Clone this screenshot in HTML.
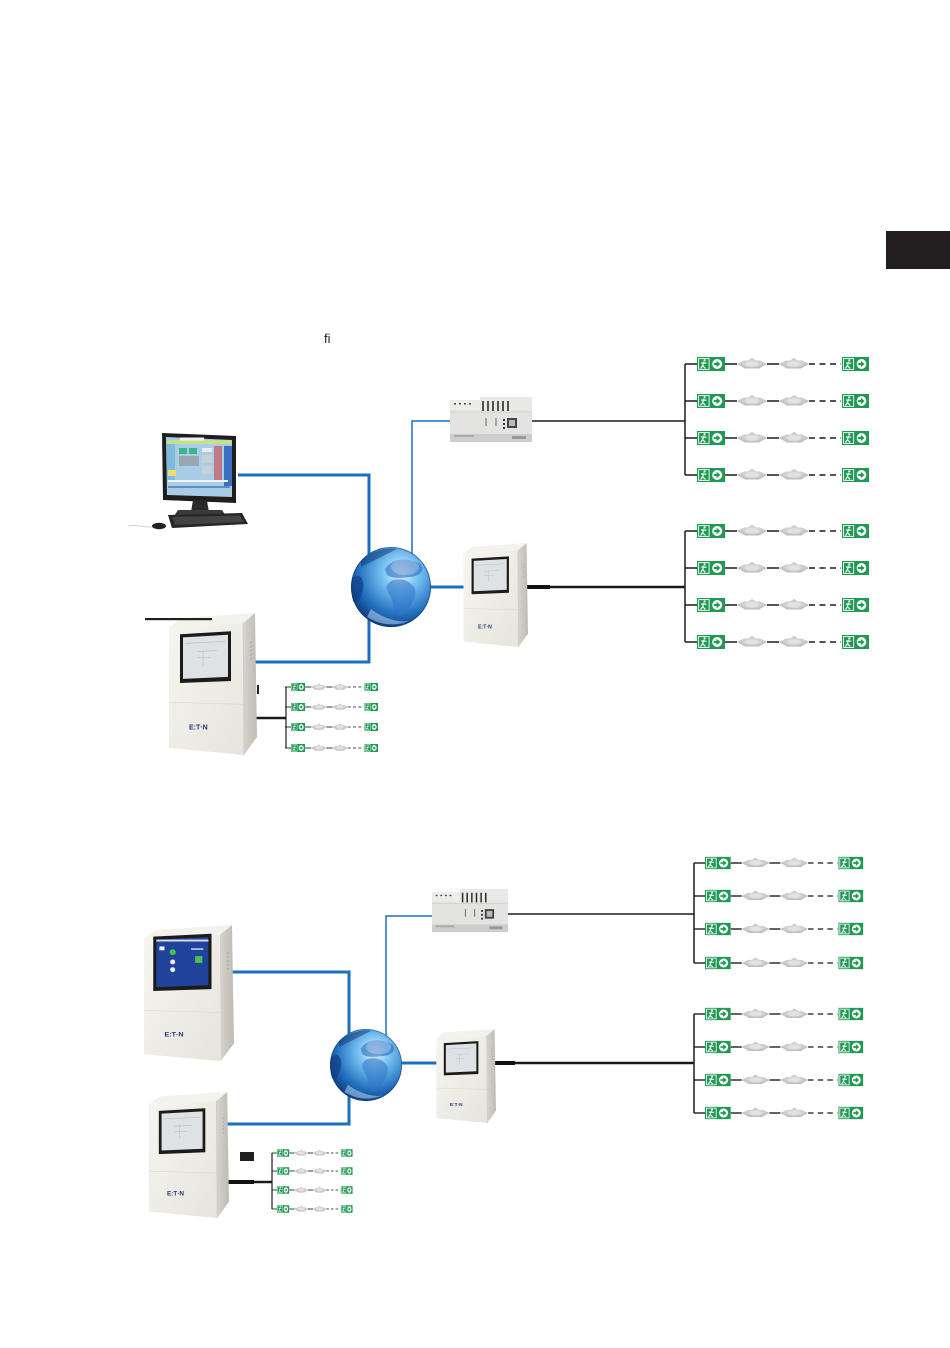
<!DOCTYPE html>
<html>
<head>
<meta charset="utf-8">
<style>
  html,body{margin:0;padding:0;background:#fff;}
  body{width:950px;height:1348px;position:relative;overflow:hidden;font-family:"Liberation Sans",sans-serif;}
  svg{position:absolute;left:0;top:0;}
</style>
</head>
<body>
<svg width="950" height="1348" viewBox="0 0 950 1348" xmlns="http://www.w3.org/2000/svg">
  <defs>
    <radialGradient id="glg" cx="62%" cy="32%" r="75%">
      <stop offset="0" stop-color="#e8f6ff"/>
      <stop offset="0.3" stop-color="#78c2f2"/>
      <stop offset="0.7" stop-color="#2470bf"/>
      <stop offset="1" stop-color="#0c3274"/>
    </radialGradient>
    <linearGradient id="sideg" x1="0" y1="0" x2="1" y2="0">
      <stop offset="0" stop-color="#d6d4cc"/>
      <stop offset="1" stop-color="#bdbbb4"/>
    </linearGradient>
    <linearGradient id="frontg" x1="0" y1="0" x2="1" y2="1">
      <stop offset="0" stop-color="#f6f5ef"/>
      <stop offset="1" stop-color="#e6e4dc"/>
    </linearGradient>
    <radialGradient id="fxg" cx="50%" cy="50%" r="55%">
      <stop offset="0" stop-color="#e6e6e6"/>
      <stop offset="0.6" stop-color="#cdcdcd"/>
      <stop offset="1" stop-color="#b4b4b4"/>
    </radialGradient>

    <symbol id="sg" viewBox="0 0 28 14" preserveAspectRatio="none">
      <rect width="28" height="14" fill="#1f9a52"/>
      <rect x="1.6" y="1.6" width="10.5" height="10.8" fill="none" stroke="#fff" stroke-width="0.9"/>
      <circle cx="7.6" cy="3.4" r="1.1" fill="#fff"/>
      <path d="M7 4.8 L5.6 8.6 M5.6 8.6 L3.6 11.6 M5.6 8.6 L8.4 11.4 M4.2 6 L9.6 6.2" stroke="#fff" stroke-width="1.2" fill="none"/>
      <circle cx="20.2" cy="7" r="5" fill="#fff"/>
      <path d="M16.8 6 H19.6 V3.8 L23.4 7 L19.6 10.2 V8 H16.8 Z" fill="#1f9a52"/>
    </symbol>

    <symbol id="fx" viewBox="0 0 30 12" preserveAspectRatio="none">
      <polygon points="0,6.5 7,3 11,3 15,0.5 19,3 23,3 30,6.5 22,11 8,11" fill="url(#fxg)"/>
      <ellipse cx="15" cy="6.5" rx="7" ry="2.6" fill="#e4e4e4" opacity="0.8"/>
    </symbol>

    <g id="row">
      <line x1="-12" y1="0" x2="0" y2="0" stroke="#1a1a1a" stroke-width="1.5"/>
      <use href="#sg" x="0" y="-7" width="28" height="14"/>
      <line x1="28" y1="0" x2="40" y2="0" stroke="#1a1a1a" stroke-width="1.5"/>
      <use href="#fx" x="40" y="-6.5" width="30" height="12"/>
      <line x1="70" y1="0" x2="82" y2="0" stroke="#1a1a1a" stroke-width="1.5"/>
      <use href="#fx" x="82" y="-6.5" width="30" height="12"/>
      <line x1="112" y1="0" x2="144" y2="0" stroke="#1a1a1a" stroke-width="1.5" stroke-dasharray="6 4.5"/>
      <use href="#sg" x="145" y="-7" width="27" height="14"/>
    </g>

    <symbol id="globe" viewBox="-40 -40 80 80">
      <circle cx="0" cy="0" r="40" fill="url(#glg)"/>
      <path d="M-39 -8 C-32 -16 -26 -8 -28 2 C-30 12 -34 20 -38 14 C-40 6 -40 -2 -39 -8 Z" fill="#103f86" opacity="0.7"/>
      <path d="M-6 -18 C2 -30 20 -30 30 -22 C34 -16 28 -10 18 -10 C10 -9 2 -8 -4 -12 Z" fill="#2c6cc0" opacity="0.6"/>
      <path d="M0 -6 C10 -10 20 -6 24 2 C26 10 20 20 12 28 C6 32 2 24 2 16 C0 8 -6 4 -4 -2 Z" fill="#2f72c4" opacity="0.55"/>
      <path d="M-30 -26 C-20 -36 -4 -40 6 -38 C-6 -32 -18 -26 -30 -20 Z" fill="#0b2f6e" opacity="0.5"/>
      <path d="M-20 22 C-10 30 6 36 18 34 C8 38 -8 40 -24 30 Z" fill="#bfe3fb" opacity="0.5"/>
      <ellipse cx="14" cy="-20" rx="14" ry="8" fill="#ffffff" opacity="0.25"/>
      <circle cx="0" cy="0" r="39.5" fill="none" stroke="#0a2c68" stroke-width="1" opacity="0.5"/>
    </symbol>

    <symbol id="module" viewBox="0 0 82 48" preserveAspectRatio="none">
      <rect x="0" y="4" width="82" height="42" rx="2" fill="#e3e3e1"/>
      <rect x="0" y="4" width="30" height="10" fill="#ececea"/>
      <rect x="30" y="1" width="52" height="13" fill="#e8e8e6"/>
      <g fill="#ffffff"><rect x="4" y="6" width="3" height="2"/><rect x="9" y="6" width="3" height="2"/><rect x="14" y="6" width="3" height="2"/><rect x="19" y="6" width="3" height="2"/></g>
      <g fill="#444"><rect x="4" y="7" width="2" height="1.5"/><rect x="9" y="7" width="2" height="1.5"/><rect x="14" y="7" width="2" height="1.5"/><rect x="19" y="7" width="2" height="1.5"/></g>
      <g stroke="#2a2a2a" stroke-width="1.6"><line x1="33" y1="5" x2="33" y2="15"/><line x1="38" y1="5" x2="38" y2="15"/><line x1="43" y1="5" x2="43" y2="15"/><line x1="48" y1="5" x2="48" y2="15"/><line x1="53" y1="5" x2="53" y2="15"/><line x1="58" y1="5" x2="58" y2="15"/></g>
      <line x1="0" y1="16" x2="82" y2="16" stroke="#cfcfcd" stroke-width="0.8"/>
      <g stroke="#666" stroke-width="1"><line x1="36" y1="22" x2="36" y2="30"/><line x1="46" y1="22" x2="46" y2="30"/></g>
      <g fill="#333"><rect x="53" y="23" width="2" height="2"/><rect x="53" y="27" width="2" height="2"/><rect x="53" y="31" width="2" height="2"/></g>
      <rect x="57" y="22" width="10" height="10" fill="#444"/>
      <rect x="59" y="24" width="6" height="6" fill="#bbb"/>
      <rect x="0" y="38" width="82" height="8" fill="#cdcdcb"/>
      <rect x="4" y="39" width="20" height="2" fill="#aaa"/>
      <rect x="62" y="40" width="14" height="3" fill="#999"/>
    </symbol>

    <symbol id="panel" viewBox="0 0 90 140" preserveAspectRatio="none">
      <polygon points="76,10 88,0 90,122 77,140" fill="url(#sideg)"/>
      <polygon points="2,14 76,10 77,140 2,133" fill="url(#frontg)"/>
      <polygon points="2,14 76,10 88,0 14,5" fill="#f3f2ec"/>
      <line x1="2" y1="88" x2="76" y2="90" stroke="#d8d6ce" stroke-width="0.6"/>
      <line x1="76" y1="10" x2="77" y2="140" stroke="#c8c6be" stroke-width="0.6"/>
      <g stroke="#a9a79f" stroke-width="0.8"><line x1="83" y1="30" x2="85" y2="28"/><line x1="83" y1="34" x2="85" y2="32"/><line x1="83" y1="38" x2="85" y2="36"/><line x1="83" y1="42" x2="85" y2="40"/><line x1="83" y1="46" x2="85" y2="44"/></g>
      <polygon points="13,21 64,18 64,67 13,69" fill="#1b1b1b"/>
      <polygon points="16,24 61,21.5 61,63 16,65" fill="#dfe2e4"/>
      <g stroke="#b9bcbf" stroke-width="0.6"><line x1="18" y1="30" x2="58" y2="28"/><line x1="30" y1="38" x2="50" y2="37"/><line x1="30" y1="44" x2="44" y2="44"/><line x1="36" y1="36" x2="36" y2="52"/></g>
      <text x="22" y="115" font-family="Liberation Sans, sans-serif" font-size="7" font-weight="bold" fill="#23357a">E:T·N</text>
    </symbol>

    <symbol id="panelblue" viewBox="0 0 90 140" preserveAspectRatio="none">
      <polygon points="76,10 88,0 90,122 77,140" fill="url(#sideg)"/>
      <polygon points="2,14 76,10 77,140 2,133" fill="url(#frontg)"/>
      <polygon points="2,14 76,10 88,0 14,5" fill="#f3f2ec"/>
      <line x1="2" y1="88" x2="76" y2="90" stroke="#d8d6ce" stroke-width="0.6"/>
      <g stroke="#a9a79f" stroke-width="0.8"><line x1="83" y1="30" x2="85" y2="28"/><line x1="83" y1="34" x2="85" y2="32"/><line x1="83" y1="38" x2="85" y2="36"/><line x1="83" y1="42" x2="85" y2="40"/><line x1="83" y1="46" x2="85" y2="44"/></g>
      <polygon points="11,12 68,9 68,66 11,68" fill="#1b1b1b"/>
      <polygon points="14,15 65,12.5 65,62 14,64" fill="#22439c"/>
      <rect x="14" y="15" width="51" height="2" fill="#d9dde8"/>
      <rect x="17" y="22" width="5" height="4" fill="#e8f0ff"/>
      <circle cx="30" cy="28" r="3" fill="#4cc34c"/>
      <circle cx="30" cy="38" r="2.5" fill="#e8f0ff"/>
      <circle cx="30" cy="46" r="2.5" fill="#e8f0ff"/>
      <rect x="52" y="32" width="7" height="7" fill="#4cc34c"/>
      <rect x="48" y="24" width="12" height="1.5" fill="#cfd8f0"/>
      <text x="22" y="115" font-family="Liberation Sans, sans-serif" font-size="7" font-weight="bold" fill="#23357a">E:T·N</text>
    </symbol>
  </defs>

  <!-- black tab -->
  <rect x="886" y="231" width="64" height="38" fill="#231f20"/>

  <!-- fi ligature -->
  <text x="324" y="343" font-family="Liberation Sans, sans-serif" font-size="13" fill="#231f20">ﬁ</text>

  <!-- ================= UPPER DIAGRAM ================= -->
  <path d="M238 475 H369 V662 H253" fill="none" stroke="#1c6fc0" stroke-width="3"/>
  <path d="M412 560 V421 H452" fill="none" stroke="#1c6fc0" stroke-width="1.5"/>
  <path d="M428 587 H464" fill="none" stroke="#1c6fc0" stroke-width="3"/>

  <path d="M530 421 H685" stroke="#1a1a1a" stroke-width="1.5" fill="none"/>
  <path d="M685 364 V475" stroke="#1a1a1a" stroke-width="1.5" fill="none"/>
  <path d="M525 587 H685" stroke="#1a1a1a" stroke-width="2.5" fill="none"/>
  <path d="M525 587 H550" stroke="#111" stroke-width="4" fill="none"/>
  <path d="M685 531 V642" stroke="#1a1a1a" stroke-width="1.5" fill="none"/>
  <path d="M246 718 H286" stroke="#1a1a1a" stroke-width="2.5" fill="none"/>
  <path d="M286 687 V748" stroke="#1a1a1a" stroke-width="1.2" fill="none"/>

  <use href="#row" transform="translate(697,364)"/>
  <use href="#row" transform="translate(697,401)"/>
  <use href="#row" transform="translate(697,438)"/>
  <use href="#row" transform="translate(697,475)"/>
  <use href="#row" transform="translate(697,531)"/>
  <use href="#row" transform="translate(697,568)"/>
  <use href="#row" transform="translate(697,605)"/>
  <use href="#row" transform="translate(697,642)"/>
  <use href="#row" transform="translate(291,687) scale(0.506,0.58)"/>
  <use href="#row" transform="translate(291,707) scale(0.506,0.58)"/>
  <use href="#row" transform="translate(291,727) scale(0.506,0.58)"/>
  <use href="#row" transform="translate(291,748) scale(0.506,0.58)"/>

  <!-- PC -->
  <g>
    <path d="M152 527 C140 527 134 524 128 526" stroke="#c9c9c9" stroke-width="0.8" fill="none"/>
    <polygon points="162,433 236,436 236,503 163,500" fill="#1e1e1e"/>
    <polygon points="166,437 232,440 232,497 167,495" fill="#a9cde6"/>
    <rect x="167" y="440" width="64" height="4" fill="#c9e08a"/>
    <rect x="180" y="437.5" width="24" height="3" fill="#f0f0f0"/>
    <rect x="167" y="444" width="8" height="36" fill="#7fb9dc"/>
    <rect x="179" y="448" width="8" height="6" fill="#3fb48c"/>
    <rect x="189" y="448" width="8" height="6" fill="#3fb48c"/>
    <rect x="179" y="456" width="20" height="10" fill="#9aa6b0"/>
    <rect x="202" y="448" width="10" height="4" fill="#e8eef2"/>
    <rect x="202" y="455" width="10" height="8" fill="#c8d0d6"/>
    <rect x="202" y="466" width="10" height="8" fill="#c8d0d6"/>
    <rect x="214" y="446" width="8" height="36" fill="#c07a86"/>
    <rect x="224" y="446" width="8" height="40" fill="#3b6fc3"/>
    <rect x="168" y="480" width="60" height="2" fill="#f4f4f4"/>
    <rect x="168" y="486" width="62" height="2" fill="#5e8fc0"/>
    <rect x="168" y="470" width="8" height="6" fill="#e8e070"/>
    <polygon points="193,500 207,501 209,512 191,512" fill="#2a2a2a"/>
    <polygon points="178,510 222,510 226,516 174,516" fill="#3a3a3a"/>
    <polygon points="168,515 242,513 248,524 172,528" fill="#262626"/>
    <polygon points="172,517 240,515.5 244,522 175,525" fill="#444"/>
    <ellipse cx="159" cy="526" rx="7" ry="3.2" fill="#222"/>
  </g>

  <use href="#globe" x="351" y="547" width="80" height="80"/>
  <use href="#module" x="450" y="396" width="82" height="48"/>

  <use href="#panel" x="462" y="543" width="66" height="104"/>
  <use href="#panel" x="167" y="613" width="90" height="142"/>
  <rect x="145" y="618" width="67" height="2.2" fill="#231f20"/>
  <rect x="257" y="685" width="2" height="9" fill="#231f20"/>

  <!-- ================= LOWER DIAGRAM ================= -->
  <path d="M226 972 H349 V1124 H225" fill="none" stroke="#1c6fc0" stroke-width="3"/>
  <path d="M386 1040 V916 H434" fill="none" stroke="#1c6fc0" stroke-width="1.5"/>
  <path d="M398 1063 H438" fill="none" stroke="#1c6fc0" stroke-width="3"/>

  <path d="M505 914 H694" stroke="#1a1a1a" stroke-width="1.5" fill="none"/>
  <path d="M694 863 V963" stroke="#1a1a1a" stroke-width="1.5" fill="none"/>
  <path d="M492 1063 H694" stroke="#1a1a1a" stroke-width="2.5" fill="none"/>
  <path d="M492 1063 H515" stroke="#111" stroke-width="4" fill="none"/>
  <path d="M694 1014 V1113" stroke="#1a1a1a" stroke-width="1.5" fill="none"/>
  <path d="M220 1182 H272" stroke="#1a1a1a" stroke-width="2.5" fill="none"/>
  <path d="M220 1182 H254" stroke="#111" stroke-width="4" fill="none"/>
  <path d="M272 1153 V1209" stroke="#1a1a1a" stroke-width="1.2" fill="none"/>

  <use href="#row" transform="translate(705,863) scale(0.92,0.9)"/>
  <use href="#row" transform="translate(705,896) scale(0.92,0.9)"/>
  <use href="#row" transform="translate(705,929) scale(0.92,0.9)"/>
  <use href="#row" transform="translate(705,963) scale(0.92,0.9)"/>
  <use href="#row" transform="translate(705,1014) scale(0.92,0.9)"/>
  <use href="#row" transform="translate(705,1047) scale(0.92,0.9)"/>
  <use href="#row" transform="translate(705,1080) scale(0.92,0.9)"/>
  <use href="#row" transform="translate(705,1113) scale(0.92,0.9)"/>

  <use href="#row" transform="translate(277,1153) scale(0.44,0.55)"/>
  <use href="#row" transform="translate(277,1171) scale(0.44,0.55)"/>
  <use href="#row" transform="translate(277,1190) scale(0.44,0.55)"/>
  <use href="#row" transform="translate(277,1209) scale(0.44,0.55)"/>

  <use href="#globe" x="330" y="1029" width="72" height="72"/>
  <use href="#module" x="432" y="888" width="76" height="46"/>

  <use href="#panelblue" x="142" y="925" width="92" height="136"/>
  <use href="#panel" x="435" y="1029" width="61" height="94"/>
  <use href="#panel" x="147" y="1092" width="82" height="126"/>
  <rect x="240" y="1152" width="14" height="9" fill="#231f20"/>
</svg>
</body>
</html>
